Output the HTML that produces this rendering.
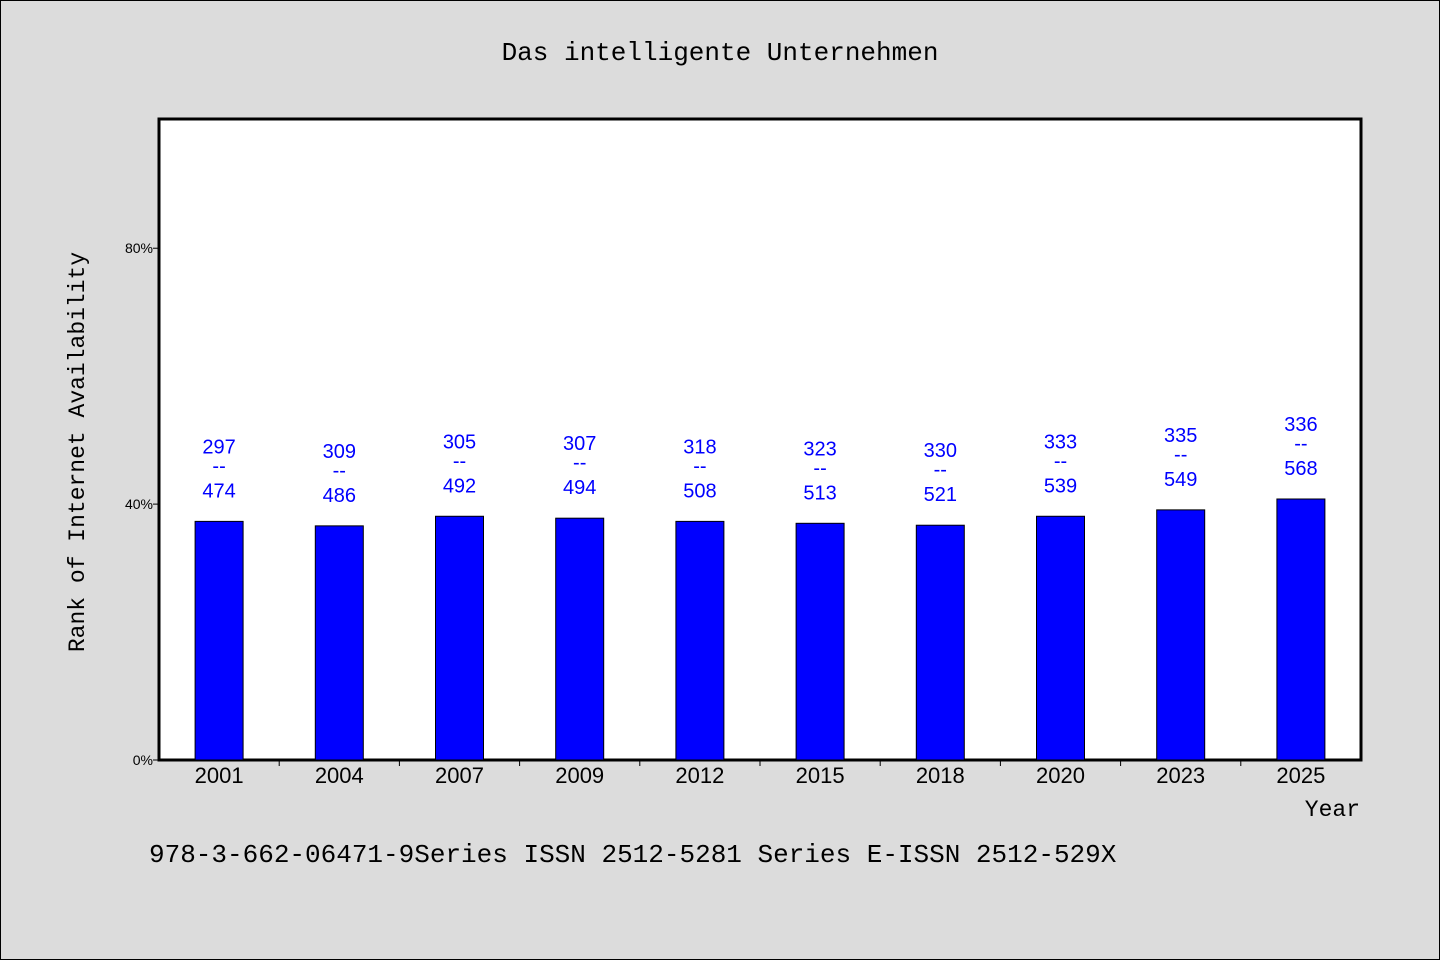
<!DOCTYPE html>
<html><head><meta charset="utf-8"><style>
html,body{margin:0;padding:0;background:#dcdcdc;}
svg{display:block;}
.mono{font-family:"Liberation Mono","WenQuanYi Zen Hei",monospace;}
.sans{font-family:"Liberation Sans","WenQuanYi Zen Hei",sans-serif;}
</style></head><body>
<svg id="chart" width="1440" height="960" xmlns="http://www.w3.org/2000/svg">
<rect x="0.5" y="0.5" width="1439" height="959" fill="#dcdcdc" stroke="#000"/>
<text x="720" y="60" text-anchor="middle" class="mono" font-size="26">Das intelligente Unternehmen</text>
<rect x="159" y="119" width="1202" height="641" fill="#fff" stroke="#000" stroke-width="3"/>
<g id="marks"></g>
<text transform="translate(84,452) rotate(-90)" text-anchor="middle" class="mono" font-size="23">Rank of Internet Availability</text>
<text x="1360" y="816" text-anchor="end" class="mono" font-size="23">Year</text>
<text x="149" y="862" class="mono" font-size="26">978-3-662-06471-9Series ISSN 2512-5281 Series E-ISSN 2512-529X</text>
</svg>
<script>
const categories=["2001","2004","2007","2009","2012","2015","2018","2020","2023","2025"];
const values=[37.3,36.6,38.1,37.8,37.3,37.0,36.7,38.1,39.1,40.8];
const topLabels=["297","309","305","307","318","323","330","333","335","336"];
const bottomLabels=["474","486","492","494","508","513","521","539","549","568"];
const yTicks=[0,40,80];
const NS="http://www.w3.org/2000/svg";
const L=159,R=1361,T=119,B=760;
const yMax=100.2;
function y(v){return B-(v/yMax)*(B-T);}
const band=(R-L)/categories.length;
function xc(i){return L+band*(i+0.5);}
const g=document.getElementById('marks');
function mk(tag,attrs,text){const e=document.createElementNS(NS,tag);for(const k in attrs)e.setAttribute(k,attrs[k]);if(text!==undefined)e.textContent=text;g.appendChild(e);return e;}
yTicks.forEach(t=>{
  const l=mk('line',{x1:L-6,x2:L,y1:y(t),y2:y(t),stroke:'#000'});
  
  
  const tx=mk('text',{x:L-6,y:y(t)+5,'text-anchor':'end','font-size':14,class:'sans'},t+'%');
  
  
});
for(let i=1;i<categories.length;i++){
  const l=mk('line',{x1:L+band*i,x2:L+band*i,y1:B,y2:B+6,stroke:'#000'});
  
  
}
categories.forEach((c,i)=>{
  const x=xc(i),top=y(values[i]);
  const b=mk('rect',{x:x-24,y:top,width:48,height:B-top,fill:'#0000ff',stroke:'#000','stroke-width':1});
  
  
  const xl=mk('text',{x:x,y:B+23,'text-anchor':'middle','font-size':22,class:'sans'},c);
  
  
  const t1=mk('text',{x:x,y:top-68,'text-anchor':'middle','font-size':20,fill:'#0000ff',class:'sans'},topLabels[i]);
  
  
  const t2=mk('text',{x:x,y:top-49,'text-anchor':'middle','font-size':20,fill:'#0000ff',class:'sans'},'--');
  
  
  const t3=mk('text',{x:x,y:top-24,'text-anchor':'middle','font-size':20,fill:'#0000ff',class:'sans'},bottomLabels[i]);
  
  
});
</script>
</body></html>
